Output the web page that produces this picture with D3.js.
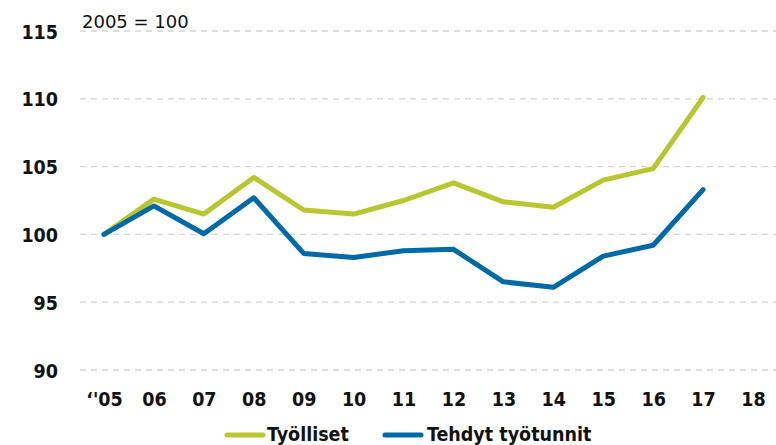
<!DOCTYPE html>
<html><head><meta charset="utf-8">
<script src="https://cdn.jsdelivr.net/npm/d3@7"></script>
<style>
body{margin:0;background:#fff;}
svg{display:block;}
</style></head>
<body>
<svg id="c" width="776" height="445"></svg>
<script>
const categories = ["‘'05","06","07","08","09","10","11","12","13","14","15","16","17","18"];
const tyolliset = [100,102.6,101.5,104.2,101.8,101.5,102.5,103.8,102.4,102.0,104.0,104.85,110.1,null];
const tyotunnit = [100,102.1,100.05,102.7,98.6,98.3,98.8,98.9,96.5,96.1,98.4,99.2,103.3,null];
const yTicks = [90,95,100,105,110,115];
const seriesNames = ["Työlliset","Tehdyt työtunnit"];
const colors = ["#b8c630","#006aa8"];

const svg = d3.select("#c");
const bold = "'DejaVu Sans Condensed', 'DejaVu Sans', sans-serif";
const reg = "'DejaVu Sans', sans-serif";
const x = d3.scalePoint().domain(categories).range([104, 753]);
const y = d3.scaleLinear().domain([90,115]).range([370, 31]);

// grid
svg.append("g").selectAll("line").data(yTicks).join("line")
  .attr("x1",80).attr("x2",776)
  .attr("y1",d=>y(d)).attr("y2",d=>y(d))
  .attr("stroke","#d4d4d4").attr("stroke-width",1.3).attr("stroke-dasharray","6,5");

// y axis labels
const yAxis = d3.axisLeft(y).tickValues(yTicks).tickSize(0).tickPadding(0);
const ya = svg.append("g").attr("transform","translate(58,0)").call(yAxis);
ya.select(".domain").remove();
ya.selectAll("text").attr("font-family",bold).attr("font-weight","bold").attr("font-size",19.5).attr("fill","#111").attr("dy","0.36em");

// x axis labels
const xAxis = d3.axisBottom(x).tickSize(0).tickPadding(0);
const xa = svg.append("g").attr("transform","translate(0,406)").call(xAxis);
xa.select(".domain").remove();
xa.selectAll("text").attr("font-family",bold).attr("font-weight","bold").attr("font-size",19.5).attr("fill","#111").attr("dy","0");

// lines
const line = d3.line().defined(d=>d.v!=null).x(d=>x(d.c)).y(d=>y(d.v));
[tyolliset, tyotunnit].forEach((vals,i)=>{
  svg.append("path").datum(vals.map((v,j)=>({c:categories[j],v})))
    .attr("d",line).attr("fill","none").attr("stroke",colors[i])
    .attr("stroke-width",5).attr("stroke-linejoin","round").attr("stroke-linecap","round");
});

// subtitle
svg.append("text").attr("x",82).attr("y",28).text("2005 = 100")
  .attr("font-family",reg).attr("font-size",18).attr("fill","#111");

// legend
const leg = [{x:227,tx:267},{x:385,tx:427}];
seriesNames.forEach((n,i)=>{
  svg.append("line").attr("x1",leg[i].x).attr("x2",leg[i].x+36).attr("y1",435).attr("y2",435)
    .attr("stroke",colors[i]).attr("stroke-width",5).attr("stroke-linecap","round");
  svg.append("text").attr("x",leg[i].tx).attr("y",441).text(n)
    .attr("font-family",bold).attr("font-weight","bold").attr("font-size",19.5).attr("fill","#111");
});
</script>
</body></html>
